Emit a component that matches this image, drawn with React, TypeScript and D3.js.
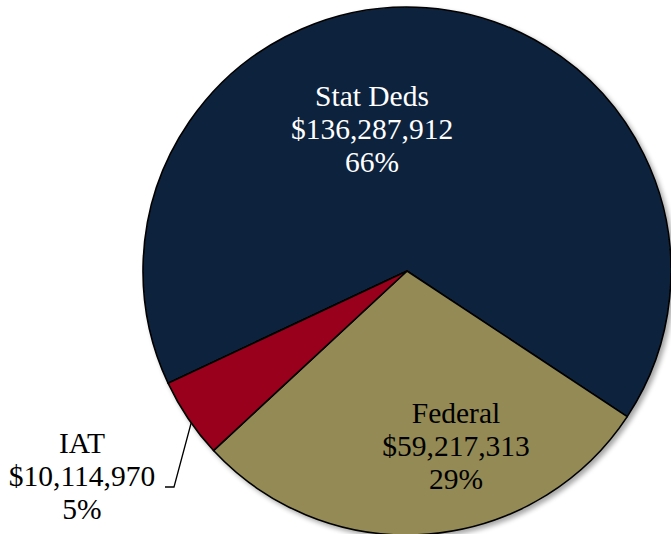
import React from "react";
import * as d3 from "d3";

const categories = ["Stat Deds", "Federal", "IAT"];
const values = [136287912, 59217313, 10114970];
const valueLabels = ["$136,287,912", "$59,217,313", "$10,114,970"];
const percentLabels = ["66%", "29%", "5%"];
const colors = ["#10243E", "#948A54", "#98001A"];
const textColors = ["#FFFFFF", "#000000", "#000000"];

const W = 671;
const H = 534;
const cx = 407;
const cy = 271;
const R = 264;
const startDeg = -115.15;

// label anchor (centre x, first baseline y)
const labelPos: [number, number][] = [
  [372, 106],
  [456, 423],
  [82, 453],
];

export default function App() {
  const start = (startDeg * Math.PI) / 180;
  const pie = d3
    .pie<number>()
    .sort(null)
    .value((d) => d)
    .startAngle(start)
    .endAngle(start + 2 * Math.PI);
  const arcs = pie(values);
  const arc = d3.arc<d3.PieArcDatum<number>>().innerRadius(0).outerRadius(R);

  // leader line for IAT from pie edge
  const iat = arcs[2];
  const mid = (iat.startAngle + iat.endAngle) / 2;
  const edgeAngle = mid - 0.02;
  const ex = cx + R * Math.sin(edgeAngle);
  const ey = cy - R * Math.cos(edgeAngle);

  const lineH = 33;

  return (
    <svg
      width={W}
      height={H}
      style={{ position: "absolute", left: 0, top: 0, display: "block" }}
    >
      <defs>
        <filter id="sh" x="-10%" y="-10%" width="120%" height="120%">
          <feGaussianBlur in="SourceAlpha" stdDeviation="2.5" />
          <feOffset dx="3" dy="3" result="b" />
          <feComponentTransfer>
            <feFuncA type="linear" slope="0.35" />
          </feComponentTransfer>
          <feMerge>
            <feMergeNode />
            <feMergeNode in="SourceGraphic" />
          </feMerge>
        </filter>
      </defs>
      <rect width={W} height={H} fill="#fff" />
      <g transform={`translate(${cx},${cy})`} filter="url(#sh)">
        {arcs.map((a, i) => (
          <path
            key={categories[i]}
            d={arc(a) || ""}
            fill={colors[i]}
            stroke="#000"
            strokeWidth={1.6}
            strokeLinejoin="round"
          />
        ))}
      </g>
      <polyline
        points={`${ex},${ey} ${174},${487} ${165},${487}`}
        fill="none"
        stroke="#000"
        strokeWidth={1.3}
      />
      {categories.map((c, i) => (
        <text
          key={c}
          x={labelPos[i][0]}
          y={labelPos[i][1]}
          textAnchor="middle"
          fontFamily="'Liberation Serif', serif"
          fontSize={29.5}
          fill={textColors[i]}
        >
          <tspan x={labelPos[i][0]} dy={0}>
            {c}
          </tspan>
          <tspan x={labelPos[i][0]} dy={lineH}>
            {valueLabels[i]}
          </tspan>
          <tspan x={labelPos[i][0]} dy={lineH}>
            {percentLabels[i]}
          </tspan>
        </text>
      ))}
    </svg>
  );
}
